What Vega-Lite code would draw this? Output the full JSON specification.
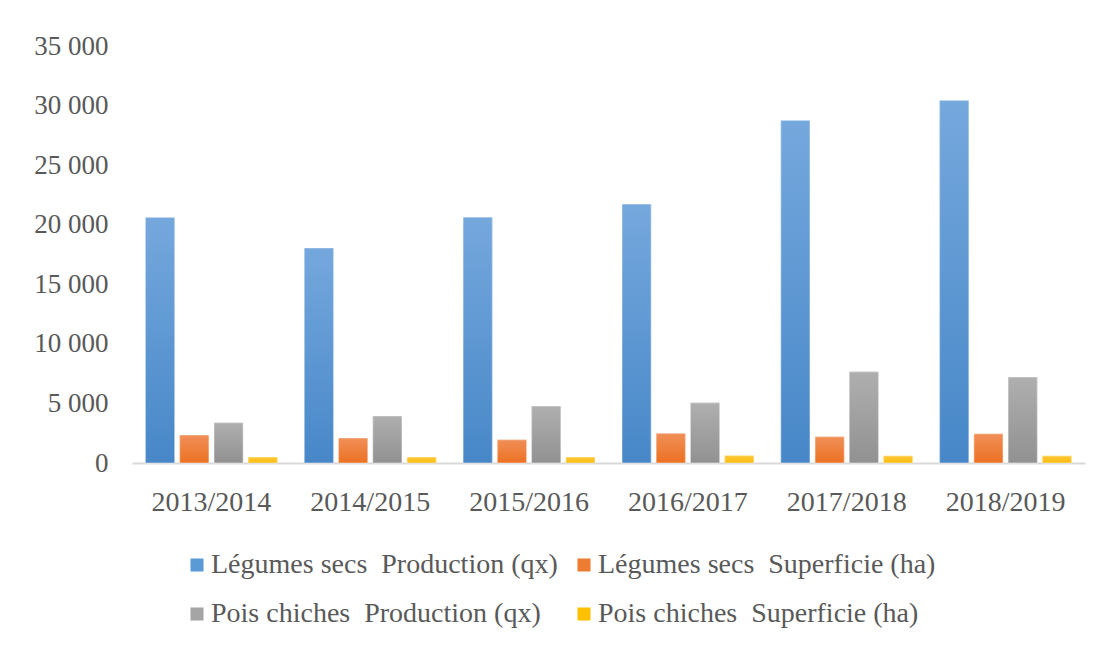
{
  "$schema": "https://vega.github.io/schema/vega-lite/v6.json",
  "width": 953,
  "height": 417,
  "autosize": {"type": "none"},
  "padding": {"left": 132, "top": 46, "right": 15, "bottom": 182},
  "background": "#ffffff",
  "config": {
    "view": {"stroke": null},
    "font": "Liberation Serif",
    "locale": {"number": {"decimal": ",", "thousands": " ", "grouping": [3], "currency": ["", " €"]}}
  },
  "data": {
    "values": [
      {"annee": "2013/2014", "serie": "Légumes secs\u00a0 Production (qx)", "valeur": 20600},
      {"annee": "2013/2014", "serie": "Légumes secs\u00a0 Superficie (ha)", "valeur": 2350},
      {"annee": "2013/2014", "serie": "Pois chiches\u00a0 Production (qx)", "valeur": 3380},
      {"annee": "2013/2014", "serie": "Pois chiches\u00a0 Superficie (ha)", "valeur": 500},
      {"annee": "2014/2015", "serie": "Légumes secs\u00a0 Production (qx)", "valeur": 18050},
      {"annee": "2014/2015", "serie": "Légumes secs\u00a0 Superficie (ha)", "valeur": 2100},
      {"annee": "2014/2015", "serie": "Pois chiches\u00a0 Production (qx)", "valeur": 3950},
      {"annee": "2014/2015", "serie": "Pois chiches\u00a0 Superficie (ha)", "valeur": 500},
      {"annee": "2015/2016", "serie": "Légumes secs\u00a0 Production (qx)", "valeur": 20620},
      {"annee": "2015/2016", "serie": "Légumes secs\u00a0 Superficie (ha)", "valeur": 1950},
      {"annee": "2015/2016", "serie": "Pois chiches\u00a0 Production (qx)", "valeur": 4780},
      {"annee": "2015/2016", "serie": "Pois chiches\u00a0 Superficie (ha)", "valeur": 500},
      {"annee": "2016/2017", "serie": "Légumes secs\u00a0 Production (qx)", "valeur": 21730},
      {"annee": "2016/2017", "serie": "Légumes secs\u00a0 Superficie (ha)", "valeur": 2480},
      {"annee": "2016/2017", "serie": "Pois chiches\u00a0 Production (qx)", "valeur": 5050},
      {"annee": "2016/2017", "serie": "Pois chiches\u00a0 Superficie (ha)", "valeur": 620},
      {"annee": "2017/2018", "serie": "Légumes secs\u00a0 Production (qx)", "valeur": 28750},
      {"annee": "2017/2018", "serie": "Légumes secs\u00a0 Superficie (ha)", "valeur": 2200},
      {"annee": "2017/2018", "serie": "Pois chiches\u00a0 Production (qx)", "valeur": 7650},
      {"annee": "2017/2018", "serie": "Pois chiches\u00a0 Superficie (ha)", "valeur": 600},
      {"annee": "2018/2019", "serie": "Légumes secs\u00a0 Production (qx)", "valeur": 30420},
      {"annee": "2018/2019", "serie": "Légumes secs\u00a0 Superficie (ha)", "valeur": 2450},
      {"annee": "2018/2019", "serie": "Pois chiches\u00a0 Production (qx)", "valeur": 7220},
      {"annee": "2018/2019", "serie": "Pois chiches\u00a0 Superficie (ha)", "valeur": 600}
    ]
  },
  "encoding": {
    "x": {
      "field": "annee", "type": "nominal", "title": null,
      "scale": {"paddingInner": 0.17, "paddingOuter": 0.085},
      "axis": {
        "labelAngle": 0, "ticks": false, "domainColor": "#d9d9d9", "domainWidth": 2,
        "labelFontSize": 28, "labelColor": "#595959", "labelPadding": 25, "labelFont": "Liberation Serif"
      }
    },
    "xOffset": {
      "field": "serie", "type": "nominal",
      "sort": ["Légumes secs\u00a0 Production (qx)", "Légumes secs\u00a0 Superficie (ha)", "Pois chiches\u00a0 Production (qx)", "Pois chiches\u00a0 Superficie (ha)"],
      "scale": {"paddingInner": 0.15, "paddingOuter": 0}
    },
    "y": {
      "field": "valeur", "type": "quantitative", "title": null,
      "scale": {"domain": [0, 35000]},
      "axis": {
        "values": [0, 5000, 10000, 15000, 20000, 25000, 30000, 35000],
        "format": ",d", "grid": false, "domain": false, "ticks": false,
        "labelFontSize": 27, "labelColor": "#595959", "labelPadding": 24, "labelFont": "Liberation Serif"
      }
    }
  },
  "layer": [
    {
      "mark": {"type": "bar"},
      "encoding": {
        "color": {
          "field": "serie", "type": "nominal",
          "scale": {
            "domain": ["Légumes secs\u00a0 Production (qx)", "Légumes secs\u00a0 Superficie (ha)", "Pois chiches\u00a0 Production (qx)", "Pois chiches\u00a0 Superficie (ha)"],
            "range": ["#5b9bd5", "#ed7d31", "#a5a5a5", "#ffc000"]
          },
          "legend": {
            "title": null, "orient": "none", "legendX": 51, "legendY": 505,
            "direction": "horizontal", "columns": 2, "columnPadding": 12, "rowPadding": 21,
            "symbolType": "square", "symbolSize": 170, "symbolStrokeWidth": 0,
            "labelFontSize": 28, "labelColor": "#595959", "labelFont": "Liberation Serif",
            "labelOffset": 0, "labelLimit": 500
          }
        }
      }
    },
    {
      "mark": {"type": "bar", "stroke": "#ffffff", "strokeOpacity": 0.45, "strokeWidth": 1},
      "encoding": {
        "color": {
          "condition": [
            {"test": "indexof(datum.serie, 'Légumes') >= 0 && indexof(datum.serie, 'Production') >= 0",
             "value": {"gradient": "linear", "x1": 0, "y1": 0, "x2": 0, "y2": 1, "stops": [{"offset": 0, "color": "#75a8dd"}, {"offset": 1, "color": "#4787c8"}]}},
            {"test": "indexof(datum.serie, 'Légumes') >= 0",
             "value": {"gradient": "linear", "x1": 0, "y1": 0, "x2": 0, "y2": 1, "stops": [{"offset": 0, "color": "#f08f58"}, {"offset": 1, "color": "#ec7122"}]}},
            {"test": "indexof(datum.serie, 'Production') >= 0",
             "value": {"gradient": "linear", "x1": 0, "y1": 0, "x2": 0, "y2": 1, "stops": [{"offset": 0, "color": "#afafaf"}, {"offset": 1, "color": "#919191"}]}}
          ],
          "value": {"gradient": "linear", "x1": 0, "y1": 0, "x2": 0, "y2": 1, "stops": [{"offset": 0, "color": "#ffc838"}, {"offset": 1, "color": "#fbbd10"}]}
        }
      }
    }
  ]
}
